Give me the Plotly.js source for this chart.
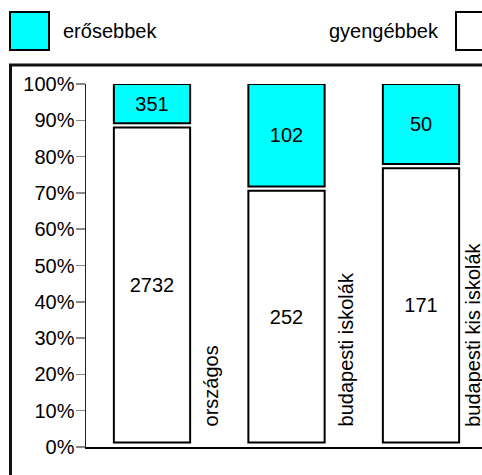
<!DOCTYPE html>
<html>
<head>
<meta charset="utf-8">
<script src="https://cdn.plot.ly/plotly-3.0.1.min.js"></script>
<style>html,body{margin:0;padding:0;background:#fff;}#chart{width:482px;height:475px;}</style>
</head>
<body>
<div id="chart"></div>
<script>
// ---- data ----
var categories = ['országos', 'budapesti iskolák', 'budapesti kis iskolák'];
var strongCounts = [351, 102, 50];     // erősebbek
var weakCounts = [2732, 252, 171];     // gyengébbek
var seriesNames = ['erősebbek', 'gyengébbek'];
var yTickVals = [0, 10, 20, 30, 40, 50, 60, 70, 80, 90, 100];
var yTickText = ['0%', '10%', '20%', '30%', '40%', '50%', '60%', '70%', '80%', '90%', '100%'];

// ---- derived ----
var totals = strongCounts.map(function (s, i) { return s + weakCounts[i]; });
var weakPct = weakCounts.map(function (w, i) { return w / totals[i] * 100; });
var strongPct = strongCounts.map(function (s, i) { return s / totals[i] * 100; });
var xIdx = categories.map(function (c, i) { return i; });

// ---- style ----
var W = 482, H = 475;
var M = {l: 86, r: 0, t: 84, b: 28};
var pw = W - M.l - M.r, ph = H - M.t - M.b;
var FONT = 'Liberation Sans, Arial, sans-serif';
var CYAN = '#00ffff';
var botGap = 1.25, midGap = 0.6; // visual gaps in percent units
var xRange = [-0.4907, 2.4535];
var barW = 0.567;
var labelOffsets = [0.343, 0.343, 0.29];
function px2paperX(px) { return (px - M.l) / pw; }
function px2paperY(py) { return (H - M.b - py) / ph; }

var weakTrace = {
  type: 'bar', name: seriesNames[1], x: xIdx,
  base: weakPct.map(function () { return botGap; }),
  y: weakPct.map(function (p) { return p - midGap - botGap; }),
  width: barW,
  marker: {color: '#ffffff', line: {color: '#000000', width: 2}},
  text: weakCounts.map(String), textposition: 'inside', insidetextanchor: 'middle',
  textangle: 0, constraintext: 'none',
  textfont: {family: FONT, size: 20, color: '#000'},
  hoverinfo: 'skip', showlegend: false
};
var strongTrace = {
  type: 'bar', name: seriesNames[0], x: xIdx,
  base: weakPct.map(function (p) { return p + midGap; }),
  y: strongPct.map(function (p) { return p - midGap; }),
  width: barW,
  marker: {color: CYAN, line: {color: '#000000', width: 2}},
  text: strongCounts.map(String), textposition: 'inside', insidetextanchor: 'middle',
  textangle: 0, constraintext: 'none',
  textfont: {family: FONT, size: 20, color: '#000'},
  hoverinfo: 'skip', showlegend: false
};

var annotations = categories.map(function (c, i) {
  return {
    x: i + labelOffsets[i], y: 5.0, xref: 'x', yref: 'y',
    text: c, showarrow: false, textangle: -90,
    xanchor: 'left', yanchor: 'bottom',
    font: {family: FONT, size: 20, color: '#000'}
  };
});
annotations.push({
  x: px2paperX(61), y: px2paperY(31), xref: 'paper', yref: 'paper',
  text: seriesNames[0], showarrow: false, xanchor: 'left', yanchor: 'middle',
  font: {family: FONT, size: 20, color: '#000'}
});
annotations.push({
  x: px2paperX(441), y: px2paperY(31), xref: 'paper', yref: 'paper',
  text: seriesNames[1], showarrow: false, xanchor: 'right', yanchor: 'middle',
  font: {family: FONT, size: 20, color: '#000'}
});

var shapes = [
  {type: 'rect', xref: 'paper', yref: 'paper',
   x0: px2paperX(10), x1: px2paperX(49), y0: px2paperY(12), y1: px2paperY(50),
   fillcolor: CYAN, line: {color: '#000', width: 2}},
  {type: 'rect', xref: 'paper', yref: 'paper',
   x0: px2paperX(456), x1: px2paperX(500), y0: px2paperY(12), y1: px2paperY(50),
   fillcolor: '#fff', line: {color: '#000', width: 2}},
  {type: 'rect', xref: 'paper', yref: 'paper', layer: 'below',
   x0: px2paperX(10.5), x1: px2paperX(700), y0: px2paperY(65), y1: px2paperY(700),
   fillcolor: 'rgba(0,0,0,0)', line: {color: '#111', width: 3}}
];

var layout = {
  width: W, height: H, margin: M,
  paper_bgcolor: '#fff', plot_bgcolor: 'rgba(0,0,0,0)',
  barmode: 'overlay', showlegend: false,
  font: {family: FONT, size: 20, color: '#000'},
  xaxis: {range: xRange, showgrid: false, zeroline: false, showticklabels: false,
          ticks: '', showline: true, linecolor: '#000', linewidth: 2, fixedrange: true},
  yaxis: {range: [0, 100], tickmode: 'array', tickvals: yTickVals, ticktext: yTickText,
          showgrid: false, zeroline: false, showline: true, linecolor: '#222', linewidth: 1.5,
          ticks: 'outside', ticklen: 9, tickwidth: 1.5, tickcolor: '#888',
          tickfont: {family: FONT, size: 20, color: '#000'}, ticklabelstandoff: -3,
          fixedrange: true},
  annotations: annotations,
  shapes: shapes
};

Plotly.newPlot('chart', [weakTrace, strongTrace], layout, {staticPlot: true, displayModeBar: false});
</script>
</body>
</html>
